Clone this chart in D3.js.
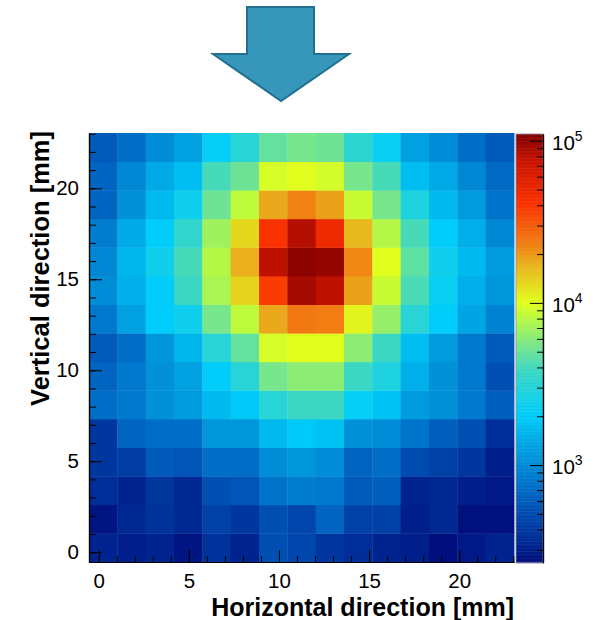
<!DOCTYPE html>
<html>
<head>
<meta charset="utf-8">
<script src="https://cdn.jsdelivr.net/npm/d3@7"></script>
<style>
  body { margin: 0; background: #fff; }
  svg { display: block; }
  text { font-family: "Liberation Sans", Arial, Helvetica, sans-serif; fill: #000; }
</style>
</head>
<body>
<svg id="chart" width="603" height="620"></svg>
<script>
// Beam-spot histogram: 15 x 15 bins spanning the same range on both axes (mm)
const axisRange = [-0.54, 23.04];
const nBins = 15;

// Counts per bin, one array per vertical bin, from the bottom row up to the top row
const yBin00 = [319, 300, 319, 266, 374, 319, 528, 471, 397, 354, 319, 300, 250, 282, 319];
const yBin01 = [266, 333, 374, 333, 446, 397, 528, 471, 654, 446, 446, 300, 333, 255, 255];
const yBin02 = [354, 319, 397, 333, 528, 558, 766, 855, 809, 586, 619, 319, 333, 300, 282];
const yBin03 = [397, 419, 586, 558, 726, 726, 1014, 1138, 1014, 654, 726, 500, 446, 397, 300];
const yBin04 = [397, 654, 726, 726, 1138, 1138, 1660, 1932, 1841, 1071, 1014, 766, 619, 528, 354];
const yBin05 = [726, 809, 1071, 1202, 1660, 1932, 3106, 3846, 3846, 2168, 1841, 1202, 1071, 809, 619];
const yBin06 = [654, 809, 1071, 1270, 2029, 3106, 5475, 6185, 6185, 3846, 2786, 1497, 1071, 809, 528];
const yBin07 = [586, 726, 1138, 1581, 3106, 4877, 9527, 10050, 10050, 6185, 3846, 1742, 1202, 809, 586];
const yBin08 = [809, 1270, 2029, 2377, 5475, 8375, 18140, 24450, 23560, 10890, 6569, 3106, 2029, 1350, 908];
const yBin09 = [1014, 1497, 2029, 3846, 7413, 13710, 38360, 91580, 80540, 19150, 8851, 4188, 2236, 1497, 1138];
const yBin10 = [959, 1581, 2377, 4087, 7886, 17590, 80540, 104000, 99080, 22030, 10050, 4732, 2377, 1660, 1202];
const yBin11 = [855, 1426, 2029, 3447, 6977, 13310, 41300, 84560, 48310, 16450, 7886, 4087, 2029, 1497, 959];
const yBin12 = [654, 1071, 1660, 2377, 5152, 8375, 18140, 22710, 19150, 8851, 5475, 2786, 1660, 1202, 766];
const yBin13 = [654, 959, 1426, 1742, 4087, 5152, 9527, 10050, 9290, 5475, 4087, 1742, 1426, 959, 691];
const yBin14 = [586, 726, 1014, 1270, 2168, 3106, 4877, 5475, 5152, 3283, 2236, 1270, 1014, 726, 586];
const counts = [yBin00, yBin01, yBin02, yBin03, yBin04, yBin05, yBin06, yBin07,
                yBin08, yBin09, yBin10, yBin11, yBin12, yBin13, yBin14];

// Axis ticks
const majorTicks = [0, 5, 10, 15, 20];
const minorTicks = d3.range(0, 24);

// Colour (z) axis: logarithmic
const zRange = [250, 110000];
const zDecades = [1000, 10000, 100000];
const zDecadeLabels = [["10", "3"], ["10", "4"], ["10", "5"]];

// Rainbow palette: position along the colour axis -> colour
const paletteStops  = [0, 0.123, 0.193, 0.286, 0.344, 0.449, 0.507, 0.577, 0.607, 0.694, 0.741, 0.839, 0.94, 1];
const paletteColors = ["rgb(0,15,125)", "rgb(0,80,180)", "rgb(0,120,205)", "rgb(0,170,230)",
                       "rgb(0,205,250)", "rgb(60,215,195)", "rgb(120,230,140)", "rgb(190,250,60)",
                       "rgb(225,255,30)", "rgb(232,180,30)", "rgb(240,130,20)", "rgb(250,50,0)",
                       "rgb(200,20,0)", "rgb(130,0,0)"];

const svg = d3.select("#chart");
const frame = { left: 89, right: 514, top: 133, bottom: 562 };
const bar = { left: 516, right: 543 };

const x = d3.scaleLinear().domain(axisRange).range([frame.left, frame.right]);
const y = d3.scaleLinear().domain(axisRange).range([frame.bottom, frame.top]);

const zPos = d3.scaleLog().domain(zRange).range([0, 1]).clamp(true);
const palette = d3.scaleLinear().domain(paletteStops).range(paletteColors)
  .interpolate(d3.interpolateRgb).clamp(true);
const colour = v => palette(zPos(v));

// Arrow above the plot
svg.append("polygon")
  .attr("points", "247,7 314,7 314,54 349,54 281,101 213,54 247,54")
  .attr("fill", "#3797bb")
  .attr("stroke", "#22708f")
  .attr("stroke-width", 2)
  .attr("stroke-linejoin", "miter");

// Histogram cells
const binWidth = (axisRange[1] - axisRange[0]) / nBins;
const edges = d3.range(nBins + 1).map(i => axisRange[0] + i * binWidth);
const cells = [];
counts.forEach((row, j) => row.forEach((v, i) => cells.push({ i, j, v })));

svg.append("g")
  .selectAll("rect")
  .data(cells)
  .join("rect")
  .attr("x", d => x(edges[d.i]))
  .attr("y", d => y(edges[d.j + 1]))
  .attr("width", d => x(edges[d.i + 1]) - x(edges[d.i]) + 0.4)
  .attr("height", d => y(edges[d.j]) - y(edges[d.j + 1]) + 0.4)
  .attr("fill", d => colour(d.v));

// Axes: ticks drawn inward, majors longer
function styleAxis(g) {
  g.selectAll("path.domain").attr("stroke", "#000").attr("stroke-width", 1.2);
  g.selectAll(".tick line").attr("stroke", "#000").attr("stroke-width", 1);
}

const xAxisG = svg.append("g").attr("transform", `translate(0,${frame.bottom})`);
xAxisG.append("g")
  .call(d3.axisBottom(x).tickValues(minorTicks).tickSize(-6).tickSizeOuter(0).tickFormat(""))
  .call(styleAxis);
xAxisG.append("g")
  .call(d3.axisBottom(x).tickValues(majorTicks).tickSize(-12).tickSizeOuter(0).tickPadding(11))
  .call(styleAxis)
  .call(g => g.selectAll("text").attr("font-size", 20.5).attr("fill", "#000"));

const yAxisG = svg.append("g").attr("transform", `translate(${frame.left},0)`);
yAxisG.append("g")
  .call(d3.axisLeft(y).tickValues(minorTicks).tickSize(-7).tickSizeOuter(0).tickFormat(""))
  .call(styleAxis);
yAxisG.append("g")
  .call(d3.axisLeft(y).tickValues(majorTicks).tickSize(-13).tickSizeOuter(0).tickPadding(10))
  .call(styleAxis)
  .call(g => g.selectAll("text").attr("font-size", 20.5).attr("fill", "#000"));

// Axis titles
svg.append("text")
  .attr("x", frame.right)
  .attr("y", 616)
  .attr("text-anchor", "end")
  .attr("font-size", 25)
  .attr("font-weight", "bold")
  .text("Horizontal direction [mm]");

svg.append("text")
  .attr("transform", `translate(49,${frame.top - 2}) rotate(-90)`)
  .attr("text-anchor", "end")
  .attr("font-size", 25.5)
  .attr("font-weight", "bold")
  .text("Vertical direction [mm]");

// Colour bar
const zy = d3.scaleLog().domain(zRange).range([frame.bottom + 0.7, frame.top + 1]);
const barSteps = d3.range(0, 1, 1 / 300);
const zAt = t => zRange[0] * Math.pow(zRange[1] / zRange[0], t);
svg.append("g")
  .selectAll("rect")
  .data(barSteps)
  .join("rect")
  .attr("x", bar.left)
  .attr("width", bar.right - bar.left)
  .attr("y", t => zy(zAt(t + 1 / 300)))
  .attr("height", t => zy(zAt(t)) - zy(zAt(t + 1 / 300)) + 0.5)
  .attr("fill", t => colour(zAt(t + 0.5 / 300)));

svg.append("rect")
  .attr("x", bar.left)
  .attr("y", zy(zRange[1]))
  .attr("width", bar.right - bar.left)
  .attr("height", zy(zRange[0]) - zy(zRange[1]))
  .attr("fill", "none")
  .attr("stroke", "#8a8a9a")
  .attr("stroke-width", 0.8);

const zMinor = [];
[100, 1000, 10000].forEach(d => d3.range(2, 10).forEach(k => {
  const v = d * k;
  if (v >= zRange[0] && v <= zRange[1]) zMinor.push(v);
}));

const zAxisG = svg.append("g").attr("transform", `translate(${bar.right},0)`);
zAxisG.append("g")
  .call(d3.axisRight(zy).tickValues(zMinor).tickSize(-6).tickSizeOuter(0).tickFormat(""))
  .call(styleAxis);
zAxisG.append("g")
  .call(d3.axisRight(zy).tickValues(zDecades).tickSize(-13).tickSizeOuter(0).tickFormat(""))
  .call(styleAxis);

const zLab = svg.append("g");
zDecades.forEach((v, k) => {
  const t = zLab.append("text")
    .attr("x", bar.right + 9)
    .attr("y", zy(v) + 9)
    .attr("font-size", 20.5);
  t.append("tspan").text(zDecadeLabels[k][0]);
  t.append("tspan").attr("dy", -9).attr("font-size", 14).text(zDecadeLabels[k][1]);
});
</script>
</body>
</html>
